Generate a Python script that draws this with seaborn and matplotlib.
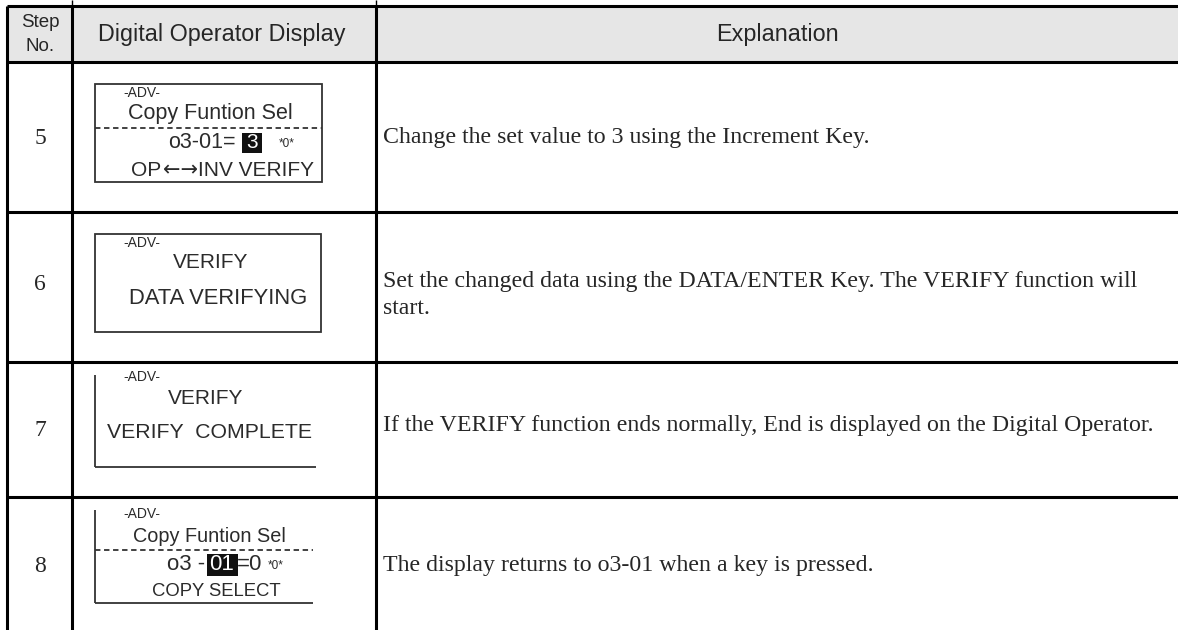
import matplotlib.pyplot as plt
from matplotlib.patches import Rectangle
import seaborn as sns

# ---- table content ----
headers = ["Step\nNo.", "Digital Operator Display", "Explanation"]
steps = ["5", "6", "7", "8"]
explanations = [
    "Change the set value to 3 using the Increment Key.",
    "Set the changed data using the DATA/ENTER Key. The VERIFY function will\nstart.",
    "If the VERIFY function ends normally, End is displayed on the Digital Operator.",
    "The display returns to o3-01 when a key is pressed.",
]
adv_label = "-ADV-"
display_titles = ["Copy Funtion Sel", "VERIFY", "VERIFY", "Copy Funtion Sel"]
display_bottoms = ["OP\u2190\u2192INV VERIFY", "DATA VERIFYING", "VERIFY  COMPLETE", "COPY SELECT"]
param_left = ["o3-01=", "o3 -"]
param_value = ["3", "01"]
param_tail = ["", "=0"]
param_flag = "*0*"

# ---- layout (pixel grid of the page) ----
W, H = 1178, 630
col_x = [7, 72, 376, W]
row_y = [6, 62, 212, 362, 497, H]
step_y = [138, 285, 430, 566]
expl_y = [138, 295, 426, 566]

sns.set_style("white")
plt.rcParams['font.family'] = ['Liberation Sans', 'DejaVu Sans']
serif = ['Liberation Serif', 'DejaVu Serif']
lcd = '#2b2b2b'

fig = plt.figure(figsize=(11.78, 6.3), dpi=100)
ax = fig.add_axes([0, 0, 1, 1])
ax.set_xlim(0, W)
ax.set_ylim(H, 0)
ax.axis('off')

# header band
ax.add_patch(Rectangle((col_x[0], row_y[0]), W - col_x[0], row_y[1] - row_y[0],
                       facecolor='#e6e6e6', edgecolor='none', zorder=0))

# grid lines
ax.hlines(row_y[:-1], col_x[0], W, color='black', lw=2.2, zorder=3)
ax.vlines(col_x[:3], row_y[0], H, color='black', lw=2.2, zorder=3)
ax.vlines(col_x[1:3], 0, row_y[0], color='black', lw=1.0, zorder=3)

# header text
ax.text(40, 34.5, headers[0], ha='center', va='center', fontsize=13.5, linespacing=1.55)
ax.text(222, 34, headers[1], ha='center', va='center', fontsize=16.8)
ax.text(777, 34, headers[2], ha='center', va='center', fontsize=16.8)

# step numbers and explanations
for s, y in zip(steps, step_y):
    ax.text(40, y, s, ha='center', va='center', fontsize=17, family=serif)
for e, y in zip(explanations, expl_y):
    ax.text(383, y, e, ha='left', va='center', fontsize=17.2, family=serif,
            linespacing=1.4)

# ---- operator display panels ----
box = dict(color='#333333', lw=1.3)
# step 5: full frame with dashed split
ax.add_patch(Rectangle((95, 84), 227, 98, fill=False, edgecolor='#333333', lw=1.3))
ax.hlines(128, 95, 322, linestyles=(0, (3, 2)), **box)
# step 6: full frame
ax.add_patch(Rectangle((95, 234), 226, 98, fill=False, edgecolor='#333333', lw=1.3))
# step 7: only left and bottom edges shown
ax.vlines(95, 375, 467, **box)
ax.hlines(467, 95, 316, **box)
# step 8: left and bottom edges with dashed split
ax.vlines(95, 510, 603, **box)
ax.hlines(603, 95, 313, **box)
ax.hlines(550, 95, 313, linestyles=(0, (3, 2)), **box)

adv_y = [93, 243, 377, 514]
for i, y in enumerate(adv_y):
    t = ax.text(123, y, adv_label, ha='left', va='center', fontsize=10, color=lcd)
    if i >= 2:
        clip = Rectangle((90, row_y[i + 2] + 15), 240, 40, transform=ax.transData)
        t.set_clip_path(clip)

# titles
ax.text(128, 114, display_titles[0], ha='left', va='center', fontsize=15.5, color=lcd)
ax.text(211, 262, display_titles[1], ha='center', va='center', fontsize=15, color=lcd)
ax.text(206, 399, display_titles[2], ha='center', va='center', fontsize=15, color=lcd)
ax.text(133, 537, display_titles[3], ha='left', va='center', fontsize=14.3, color=lcd)

# bottom lines ("OP", arrows, rest drawn in pieces so the arrows keep their length)
op = display_bottoms[0]
ax.text(131, 170, op[:2], ha='left', va='center', fontsize=15, color=lcd)
ax.text(163, 170, op[2:4], ha='left', va='center', fontsize=15, color=lcd,
        family=['DejaVu Sans'])
ax.text(198, 170, op[4:], ha='left', va='center', fontsize=15, color=lcd)
ax.text(218, 298, display_bottoms[1], ha='center', va='center', fontsize=15.8, color=lcd)
ax.text(107, 433, display_bottoms[2], ha='left', va='center', fontsize=15.3, color=lcd)
ax.text(152, 591, display_bottoms[3], ha='left', va='center', fontsize=13.3, color=lcd)

# parameter lines with highlighted cursor value
ax.text(236, 143, param_left[0], ha='right', va='center', fontsize=15.5, color=lcd)
ax.add_patch(Rectangle((242, 133), 20, 20, facecolor='#111111', edgecolor='none'))
ax.text(252, 143, param_value[0], ha='center', va='center', fontsize=15, color='white')
ax.text(287, 144, param_flag, ha='center', va='center', fontsize=8.5, color=lcd)

ax.text(205, 565, param_left[1], ha='right', va='center', fontsize=16, color=lcd)
ax.add_patch(Rectangle((207, 554), 31, 22, facecolor='#111111', edgecolor='none'))
ax.text(222, 565, param_value[1], ha='center', va='center', fontsize=16, color='white')
ax.text(237, 565, param_tail[1], ha='left', va='center', fontsize=16, color=lcd)
ax.text(276, 566, param_flag, ha='center', va='center', fontsize=8.5, color=lcd)

fig.savefig('out.png', dpi=100)
